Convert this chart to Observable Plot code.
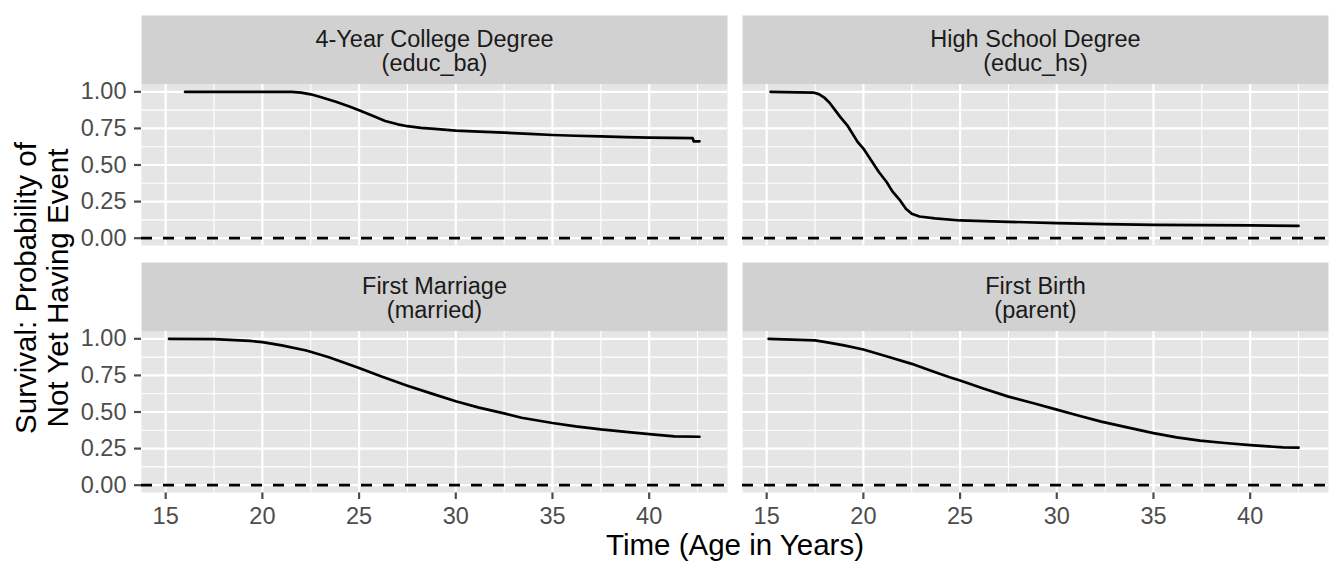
<!DOCTYPE html>
<html>
<head>
<meta charset="utf-8">
<script src="https://cdn.jsdelivr.net/npm/d3@7"></script>
<script src="https://cdn.jsdelivr.net/npm/@observablehq/plot@0.6"></script>
<style>
  body { margin: 0; background: #fff; }
  #chart svg { display: block; }
</style>
</head>
<body>
<div id="chart"></div>
<script>
// ---- Panels (facets) ----
const panelLabels = [
  "4-Year College Degree\n(educ_ba)",
  "High School Degree\n(educ_hs)",
  "First Marriage\n(married)",
  "First Birth\n(parent)"
];
const panelCols = [0, 1, 0, 1];
const panelRows = [0, 0, 1, 1];

// ---- Axis ticks ----
const xTicks = [15, 20, 25, 30, 35, 40];
const xMinor = [17.5, 22.5, 27.5, 32.5, 37.5, 42.5];
const yTicks = [0, 0.25, 0.5, 0.75, 1];
const yMinor = [0.125, 0.375, 0.625, 0.875];
const yTickLabels = ["0.00", "0.25", "0.50", "0.75", "1.00"];
const xTitle = "Time (Age in Years)";
const yTitleLines = ["Survival: Probability of", "Not Yet Having Event"];

// ---- Series ----
const baAge  = [16.0, 21.5, 22.0, 22.5, 23.0, 23.8, 24.5, 25.0, 25.7, 26.35, 27.0, 27.5, 28.2, 28.9, 30.0, 31.2, 32.5, 33.8, 35.0, 36.2, 37.5, 38.8, 40.0, 41.2, 42.25, 42.3, 42.6];
const baSurv = [1.0, 1.0, 0.995, 0.983, 0.965, 0.932, 0.900, 0.874, 0.836, 0.801, 0.778, 0.765, 0.754, 0.747, 0.735, 0.728, 0.721, 0.713, 0.705, 0.700, 0.696, 0.691, 0.687, 0.685, 0.683, 0.662, 0.662];

const hsAge  = [15.2, 17.4, 17.7, 18.0, 18.25, 18.5, 18.8, 19.2, 19.7, 20.0, 20.4, 20.8, 21.2, 21.5, 21.9, 22.2, 22.5, 22.9, 23.7, 25.0, 27.5, 30.0, 32.5, 35.0, 37.5, 40.0, 42.5];
const hsSurv = [1.0, 0.995, 0.984, 0.958, 0.925, 0.882, 0.829, 0.765, 0.658, 0.612, 0.532, 0.452, 0.384, 0.320, 0.258, 0.201, 0.167, 0.148, 0.135, 0.121, 0.112, 0.103, 0.096, 0.091, 0.089, 0.087, 0.084];

const marriedAge  = [15.17, 17.5, 19.35, 20.0, 21.0, 22.27, 23.44, 25.0, 26.16, 27.5, 28.8, 30.0, 31.2, 32.5, 33.4, 35.0, 36.2, 37.5, 38.8, 40.0, 41.3, 42.6];
const marriedSurv = [1.0, 0.998, 0.986, 0.977, 0.955, 0.920, 0.874, 0.801, 0.742, 0.680, 0.624, 0.573, 0.530, 0.491, 0.461, 0.425, 0.402, 0.381, 0.364, 0.349, 0.333, 0.331];

const parentAge  = [15.1, 17.5, 18.06, 19.0, 20.0, 21.36, 22.5, 23.5, 24.46, 25.0, 26.2, 27.5, 28.8, 30.0, 31.2, 32.3, 33.7, 35.0, 36.2, 37.4, 38.7, 40.0, 41.7, 42.5];
const parentSurv = [1.0, 0.989, 0.977, 0.955, 0.927, 0.874, 0.829, 0.782, 0.737, 0.715, 0.661, 0.605, 0.560, 0.516, 0.473, 0.434, 0.393, 0.356, 0.327, 0.304, 0.288, 0.274, 0.258, 0.256];

const seriesAges = [baAge, hsAge, marriedAge, parentAge];
const seriesSurv = [baSurv, hsSurv, marriedSurv, parentSurv];

// ---- Build tables ----
const rows = seriesAges.flatMap((ages, i) =>
  ages.map((a, j) => ({panel: i, col: panelCols[i], row: panelRows[i], age: a, surv: seriesSurv[i][j]}))
);
const strips = panelLabels.map((label, i) => ({label, col: panelCols[i], row: panelRows[i]}));

const panelBg = "#E5E5E5";
const stripBg = "#D1D1D1";

const plot = Plot.plot({
  width: 1344,
  height: 576,
  marginLeft: 140,
  marginRight: 16,
  marginTop: 84,
  marginBottom: 84,
  style: {
    fontFamily: "'Liberation Sans', Arial, Helvetica, sans-serif",
    fontSize: "23.5px",
    color: "#4D4D4D",
    background: "white",
    overflow: "visible"
  },
  fx: {domain: [0, 1], paddingInner: 0.025, paddingOuter: 0, axis: null, label: null},
  fy: {domain: [0, 1], paddingInner: 0.3482, paddingOuter: 0, axis: null, label: null},
  x: {domain: [13.75, 44.05], ticks: xTicks, tickSize: 7, tickPadding: 8, label: null, tickFormat: d => String(d)},
  y: {domain: [-0.05, 1.05], ticks: yTicks, tickSize: 7, tickPadding: 8, label: null,
      tickFormat: d => yTickLabels[yTicks.indexOf(d)]},
  marks: [
    Plot.frame({fill: panelBg, stroke: "none"}),
    Plot.frame({fill: stripBg, stroke: "none", insetTop: -69, insetBottom: 161}),
    Plot.text(strips, {fx: "col", fy: "row", text: "label", frameAnchor: "top", lineAnchor: "middle",
      dy: -33, fontSize: 23.5, lineHeight: 1.03, fill: "#1A1A1A"}),
    Plot.ruleX(xMinor, {stroke: "white", strokeWidth: 1.1}),
    Plot.ruleY(yMinor, {stroke: "white", strokeWidth: 1.1}),
    Plot.ruleX(xTicks, {stroke: "white", strokeWidth: 2.2}),
    Plot.ruleY(yTicks, {stroke: "white", strokeWidth: 2.2}),
    Plot.ruleY([0], {stroke: "black", strokeWidth: 2.7, strokeDasharray: "11,11"}),
    Plot.line(rows, {fx: "col", fy: "row", x: "age", y: "surv", z: "panel", stroke: "black",
      strokeWidth: 2.7, strokeLinejoin: "round"})
  ]
});

const svg = d3.select(plot);
svg.selectAll('[aria-label="x-axis tick"], [aria-label="y-axis tick"]')
  .attr("stroke", "#333333").attr("stroke-width", 2.2);
svg.selectAll('.tick line').attr("stroke", "#333333").attr("stroke-width", 2.2);

svg.append("text")
  .attr("x", 735).attr("y", 555)
  .attr("text-anchor", "middle")
  .attr("font-size", 29.5)
  .attr("fill", "#000")
  .text(xTitle);

const yBaselines = [36, 67.7];
yTitleLines.forEach((t, i) => {
  svg.append("text")
    .attr("transform", `translate(${yBaselines[i]},288) rotate(-90)`)
    .attr("text-anchor", "middle")
    .attr("font-size", 29.5)
    .attr("fill", "#000")
    .text(t);
});

document.getElementById("chart").appendChild(plot);
</script>
</body>
</html>
